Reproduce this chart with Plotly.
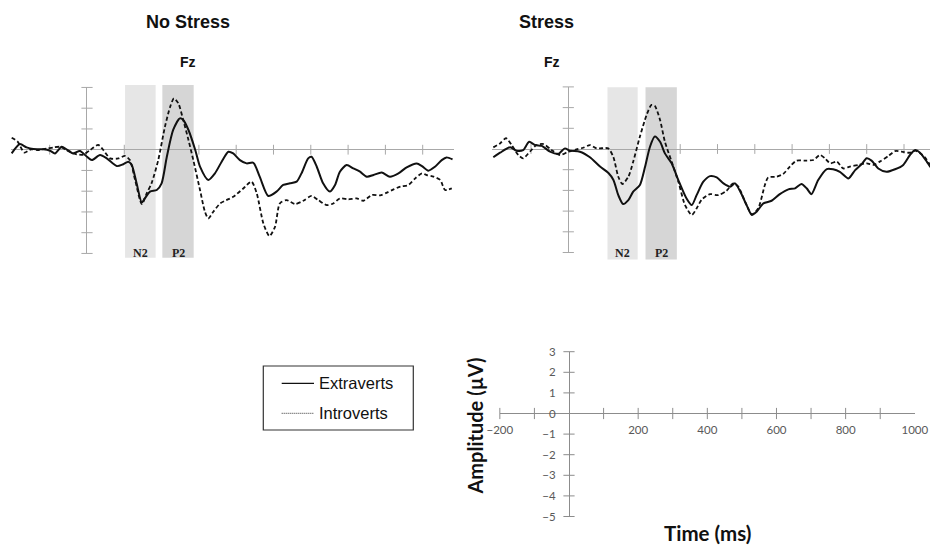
import plotly.graph_objects as go

# ---------------- data ----------------
# Fz grand averages, No Stress condition (time in ms, amplitude in µV)
ns_extra_t = [-202, -180, -162, -144, -117, -99, -86, -68, -55, -37, -19, 0, 13, 35, 53, 80, 97, 111,
              120, 133, 147, 155, 169, 187, 200, 214, 231, 249, 258, 272, 290, 303, 325, 343, 361, 379,
              392, 410, 428, 446, 463, 486, 508, 526, 544, 562, 575, 593, 602, 616, 633, 651, 665, 678,
              696, 714, 732, 750, 768, 790, 812, 835, 857, 884, 898, 915, 933, 951, 964, 980]
ns_extra_v = [-0.18, 0.27, 0.11, 0.03, 0.02, -0.05, -0.18, 0.14, 0.02, -0.18, -0.06, -0.34, -0.50, -0.26,
              -0.42, -0.79, -0.70, -0.58, -0.74, -1.62, -2.55, -2.35, -2.02, -1.94, -1.62, -0.34, 0.95,
              1.51, 1.43, 0.95, 0.00, -0.82, -1.46, -1.14, -0.58, -0.10, -0.18, -0.50, -0.66, -0.63,
              -1.30, -2.23, -2.02, -1.70, -1.62, -1.54, -1.14, -0.42, -0.34, -0.82, -1.62, -2.02, -1.70,
              -1.06, -0.74, -0.90, -1.06, -1.30, -1.22, -1.10, -1.30, -1.14, -0.85, -0.66, -0.79, -1.01,
              -0.82, -0.50, -0.37, -0.47]

ns_intro_t = [-202, -186, -168, -150, -133, -108, -90, -72, -55, -28, -10, 8, 30, 44, 62, 84, 102, 115,
              129, 147, 160, 173, 191, 209, 223, 233, 245, 258, 272, 285, 303, 316, 325, 339, 357, 374,
              392, 419, 441, 455, 473, 489, 504, 517, 535, 558, 580, 602, 620, 643, 660, 678, 701, 723,
              741, 764, 786, 804, 822, 840, 862, 880, 898, 911, 929, 947, 960, 978]
ns_intro_v = [0.58, 0.39, -0.14, 0.02, -0.02, 0.05, 0.11, 0.14, -0.02, -0.22, -0.24, -0.02, 0.23, -0.02,
              -0.42, -0.42, -0.30, -0.50, -1.46, -2.62, -2.10, -1.62, -0.50, 1.11, 2.07, 2.47, 2.23,
              1.43, 0.47, -0.50, -1.94, -2.98, -3.31, -2.98, -2.59, -2.43, -2.27, -1.87, -1.54, -2.10,
              -3.56, -4.16, -3.72, -2.59, -2.43, -2.62, -2.46, -2.23, -2.43, -2.67, -2.59, -2.35, -2.39,
              -2.35, -2.46, -2.18, -2.20, -2.07, -1.91, -1.78, -1.70, -1.38, -1.14, -1.22, -1.30, -1.46,
              -1.94, -1.86]

# Fz grand averages, Stress condition
st_extra_t = [-201, -183, -156, -139, -121, -105, -89, -71, -49, -27, -9, 4, 31, 58, 85, 107, 121, 134,
              147, 161, 174, 192, 206, 219, 232, 246, 259, 277, 295, 317, 331, 344, 362, 380, 398, 416,
              434, 447, 460, 478, 492, 505, 523, 545, 567, 590, 608, 625, 639, 652, 670, 693, 710, 728,
              751, 769, 786, 800, 813, 831, 853, 876, 898, 916, 930, 943, 961, 970, 985]
st_extra_v = [-0.40, -0.18, 0.08, -0.08, -0.05, 0.35, 0.19, 0.15, -0.13, -0.24, 0.03, -0.08, -0.13,
              -0.40, -0.85, -1.15, -1.50, -2.23, -2.66, -2.47, -2.06, -1.74, -0.85, 0.11, 0.60, 0.35,
              -0.21, -0.69, -1.50, -2.39, -2.71, -2.23, -1.58, -1.31, -1.37, -1.66, -1.82, -1.66, -2.02,
              -2.71, -3.19, -3.03, -2.63, -2.50, -2.18, -1.95, -1.90, -1.69, -1.90, -2.18, -1.50, -0.97,
              -0.98, -1.10, -1.42, -1.02, -0.74, -0.45, -0.56, -0.94, -1.10, -0.98, -0.77, -0.29, -0.05,
              -0.18, -0.61, -0.85, -1.10]

st_intro_t = [-201, -183, -167, -152, -134, -121, -103, -85, -67, -45, -22, 0, 22, 40, 58, 76, 107, 121,
              134, 145, 161, 174, 192, 210, 223, 232, 246, 259, 277, 295, 313, 331, 344, 358, 380, 402,
              424, 442, 456, 474, 492, 509, 527, 536, 558, 576, 594, 612, 634, 657, 675, 688, 702, 720,
              737, 755, 778, 800, 818, 835, 858, 876, 894, 916, 930, 943, 956, 970, 985]
st_intro_v = [0.08, 0.27, 0.52, 0.19, -0.29, -0.45, -0.13, 0.19, 0.24, -0.05, -0.29, -0.13, -0.02, 0.06,
              0.19, 0.03, 0.03, -0.40, -1.34, -1.69, -1.34, -0.61, 0.60, 1.65, 2.13, 2.08, 1.40, 0.35,
              -0.61, -1.58, -2.71, -3.19, -2.87, -2.44, -2.18, -2.23, -2.02, -1.66, -1.82, -2.55, -3.15,
              -2.87, -1.74, -1.37, -1.34, -1.21, -0.85, -0.56, -0.56, -0.53, -0.29, -0.45, -0.69, -0.61,
              -0.94, -0.85, -0.77, -0.69, -0.77, -0.61, -0.34, -0.10, -0.13, -0.18, -0.08, -0.21, -0.40,
              -0.77, -1.05]

# component windows (ms)
ns_windows = {"N2": (102, 184), "P2": (202, 286)}
st_windows = {"N2": (105, 186), "P2": (207, 291)}

# tick values
panel_amp_ticks = [-5, -4, -3, -2, -1, 1, 2, 3]
ns_time_ticks = [-100, 100, 300, 400, 500, 600, 700, 800, 900]
st_time_ticks = [-100, 300, 400, 500, 600, 700, 800, 900]
key_amp_ticks = [3, 2, 1, 0, -1, -2, -3, -4, -5]
key_amp_marks = [3, 2, 1, -1, -2, -3, -4, -5]
key_time_labels = [-200, 200, 400, 600, 800, 1000]
key_time_marks = [-200, -100, 100, 200, 300, 400, 500, 600, 700, 800, 900]

# ---------------- layout helpers ----------------
W, H = 930, 545


def xdom(px0, ppm, lo, hi):
    return [max(0.0, (px0 + lo * ppm) / W), min(1.0, (px0 + hi * ppm) / W)]


def ydom(py0, ppu, lo, hi):
    return [1 - (py0 - lo * ppu) / H, 1 - (py0 - hi * ppu) / H]


def px(x):
    return x / W


def py(y):
    return 1 - y / H


AX_GRAY = "#a8a8a8"
KEY_GRAY = "#8c8c8c"
TXT_GRAY = "#595959"

fig = go.Figure()

panels = [
    # (suffix, extra t, extra v, intro t, intro v, time ticks)
    ("", ns_extra_t, ns_extra_v, ns_intro_t, ns_intro_v, ns_time_ticks),
    ("2", st_extra_t, st_extra_v, st_intro_t, st_intro_v, st_time_ticks),
]

for sfx, et, ev, it, iv, tt in panels:
    xa, ya = "x" + sfx, "y" + sfx
    # tick marks crossing the axes
    fig.add_trace(go.Scatter(x=tt, y=[0] * len(tt), xaxis=xa, yaxis=ya, mode="markers",
                             marker=dict(symbol="line-ns", size=7, line=dict(color=AX_GRAY, width=1)),
                             cliponaxis=False, hoverinfo="skip", showlegend=False))
    fig.add_trace(go.Scatter(x=[0] * len(panel_amp_ticks), y=panel_amp_ticks, xaxis=xa, yaxis=ya,
                             mode="markers",
                             marker=dict(symbol="line-ew", size=8, line=dict(color=AX_GRAY, width=1)),
                             cliponaxis=False, hoverinfo="skip", showlegend=False))
    fig.add_trace(go.Scatter(x=it, y=iv, xaxis=xa, yaxis=ya, mode="lines", name="Introverts",
                             line=dict(color="#111111", width=1.8, dash="4px,2.5px", shape="spline",
                                       smoothing=0.7),
                             showlegend=False))
    fig.add_trace(go.Scatter(x=et, y=ev, xaxis=xa, yaxis=ya, mode="lines", name="Extraverts",
                             line=dict(color="#111111", width=2, shape="spline", smoothing=0.7),
                             showlegend=False))

# key panel: ticks only
fig.add_trace(go.Scatter(x=key_time_marks, y=[0] * len(key_time_marks), xaxis="x3", yaxis="y3",
                         mode="markers",
                         marker=dict(symbol="line-ns", size=8, line=dict(color=KEY_GRAY, width=1)),
                         cliponaxis=False, hoverinfo="skip", showlegend=False))
fig.add_trace(go.Scatter(x=[0] * len(key_amp_marks), y=key_amp_marks, xaxis="x3", yaxis="y3",
                         mode="markers",
                         marker=dict(symbol="line-ew", size=8, line=dict(color=KEY_GRAY, width=1)),
                         cliponaxis=False, hoverinfo="skip", showlegend=False))

# panel geometry: pixel of t=0, px per ms, pixel of 0 µV, px per µV
L = dict(px0=87, ppm=0.373, py0=149.7, ppu=20.75, xr=[-205, 985], yr=[-5, 3])
R = dict(px0=568.3, ppm=0.373, py0=149.0, ppu=20.7, xr=[-205, (930 - 568.3) / 0.373], yr=[-5, 3])
K = dict(px0=569.0, ppm=0.3458, py0=413.5, ppu=20.6, xr=[-200, 1000], yr=[-5, 3])

common_x = dict(showgrid=False, showticklabels=False, ticks="", showline=False, zeroline=True,
                zerolinecolor=AX_GRAY, zerolinewidth=1, fixedrange=True)
common_y = dict(showgrid=False, showticklabels=False, ticks="", showline=False, zeroline=True,
                zerolinecolor=AX_GRAY, zerolinewidth=1, fixedrange=True)

layout_axes = {}
for name, g, anchor in [("", L, "y"), ("2", R, "y2")]:
    layout_axes["xaxis" + name] = dict(common_x, range=g["xr"],
                                       domain=xdom(g["px0"], g["ppm"], *g["xr"]), anchor=anchor)
    layout_axes["yaxis" + name] = dict(common_y, range=g["yr"],
                                       domain=ydom(g["py0"], g["ppu"], *g["yr"]),
                                       anchor="x" + name)

layout_axes["xaxis3"] = dict(
    range=K["xr"], domain=xdom(K["px0"], K["ppm"], *K["xr"]), anchor="free",
    position=py(K["py0"]), showgrid=False, showline=False, zeroline=True,
    zerolinecolor=KEY_GRAY, zerolinewidth=1, tickvals=key_time_labels,
    ticks="outside", ticklen=6, tickcolor="rgba(0,0,0,0)",
    tickfont=dict(family="Lato", size=11.5, color=TXT_GRAY), fixedrange=True)
layout_axes["yaxis3"] = dict(
    range=K["yr"], domain=ydom(K["py0"], K["ppu"], *K["yr"]), anchor="free",
    position=px(K["px0"]), showgrid=False, showline=False, zeroline=True,
    zerolinecolor=KEY_GRAY, zerolinewidth=1, tickvals=key_amp_ticks,
    ticks="outside", ticklen=11, tickcolor="rgba(0,0,0,0)",
    tickfont=dict(family="Lato", size=11.5, color=TXT_GRAY), fixedrange=True)

shapes = []
annotations = []

# component windows with their labels
for sfx, wins, top, bot in [("", ns_windows, 85, 257.7), ("2", st_windows, 87.3, 259.5)]:
    for comp, (lo, hi) in wins.items():
        shapes.append(dict(type="rect", xref="x" + sfx, yref="paper", x0=lo, x1=hi,
                           y0=py(bot), y1=py(top), line=dict(width=0),
                           fillcolor="#e6e6e6" if comp == "N2" else "#d6d6d6", layer="between"))
        annotations.append(dict(xref="x" + sfx, yref="paper", x=(lo + hi) / 2, y=py(252.5),
                                text="<b>%s</b>" % comp, showarrow=False, xanchor="center",
                                yanchor="middle",
                                font=dict(family="Liberation Serif", size=12, color="#222222")))

# panel titles
for text, x, y, size in [("No Stress", 188.3, 22, 18), ("Fz", 188.3, 62, 14),
                         ("Stress", 546.7, 22, 18), ("Fz", 551.7, 62, 14)]:
    annotations.append(dict(xref="paper", yref="paper", x=px(x), y=py(y), text="<b>%s</b>" % text,
                            showarrow=False, xanchor="center", yanchor="middle",
                            font=dict(family="Liberation Sans", size=size, color="#111111")))

# key axis titles
annotations.append(dict(xref="paper", yref="paper", x=px(474.5), y=py(426), text="<b>Amplitude (µV)</b>",
                        textangle=-90, showarrow=False, xanchor="center", yanchor="middle",
                        font=dict(family="Lato", size=20, color="#111111")))
annotations.append(dict(xref="paper", yref="paper", x=px(707), y=py(532.5), text="<b>Time (ms)</b>",
                        showarrow=False, xanchor="center", yanchor="middle",
                        font=dict(family="Lato", size=20.5, color="#111111")))

# legend box
shapes.append(dict(type="rect", xref="paper", yref="paper", x0=px(263.3), x1=px(413.3),
                   y0=py(430), y1=py(366), line=dict(color="#333333", width=1.2),
                   fillcolor="rgba(0,0,0,0)"))
shapes.append(dict(type="line", xref="paper", yref="paper", x0=px(281.7), x1=px(314),
                   y0=py(383.3), y1=py(383.3), line=dict(color="#111111", width=1.2)))
shapes.append(dict(type="line", xref="paper", yref="paper", x0=px(281.7), x1=px(314),
                   y0=py(413.3), y1=py(413.3), line=dict(color="#333333", width=1, dash="1px,1px")))
for text, y in [("Extraverts", 383.3), ("Introverts", 413.3)]:
    annotations.append(dict(xref="paper", yref="paper", x=px(316.5), y=py(y), text=text,
                            showarrow=False, xanchor="left", yanchor="middle",
                            font=dict(family="Liberation Sans", size=16.5, color="#111111")))

fig.update_layout(
    width=W, height=H, margin=dict(l=0, r=0, t=0, b=0, autoexpand=False),
    paper_bgcolor="white", plot_bgcolor="rgba(0,0,0,0)",
    showlegend=False, shapes=shapes, annotations=annotations, **layout_axes)

fig.write_html("out.html", config={"displayModeBar": False})
